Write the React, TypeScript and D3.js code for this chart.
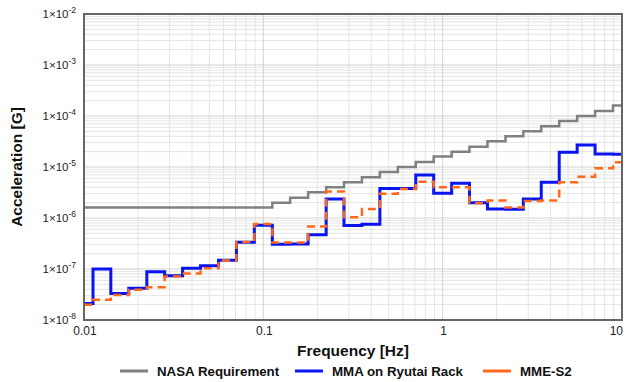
import React from "react";
import * as d3 from "d3";

// One-third-octave band centre frequencies [Hz]
const bandFreqs = [
  0.01, 0.0126, 0.0158, 0.02, 0.0251, 0.0316, 0.0398, 0.0501, 0.0631, 0.0794,
  0.1, 0.126, 0.158, 0.2, 0.251, 0.316, 0.398, 0.501, 0.631, 0.794,
  1, 1.26, 1.58, 2, 2.51, 3.16, 3.98, 5.01, 6.31, 7.94, 10,
];

// Acceleration limit / measured RMS acceleration per band [G]
const nasaRequirement = [
  1.6e-6, 1.6e-6, 1.6e-6, 1.6e-6, 1.6e-6, 1.6e-6, 1.6e-6, 1.6e-6, 1.6e-6, 1.6e-6,
  1.6e-6, 2.0e-6, 2.5e-6, 3.2e-6, 4.0e-6, 5.0e-6, 6.3e-6, 8.0e-6, 1.0e-5, 1.26e-5,
  1.6e-5, 2.0e-5, 2.5e-5, 3.2e-5, 4.0e-5, 5.0e-5, 6.3e-5, 8.0e-5, 1.0e-4, 1.26e-4, 1.6e-4,
];

const mmaRyutai = [
  2.1e-8, 1.0e-7, 3.3e-8, 4.2e-8, 8.8e-8, 7.4e-8, 1.03e-7, 1.16e-7, 1.48e-7, 3.35e-7,
  7.2e-7, 3.05e-7, 3.1e-7, 4.7e-7, 2.35e-6, 7.1e-7, 7.5e-7, 3.8e-6, 3.8e-6, 7.0e-6,
  3.05e-6, 4.8e-6, 2.0e-6, 1.5e-6, 1.48e-6, 2.36e-6, 5.0e-6, 1.94e-5, 2.7e-5, 1.8e-5, 1.77e-5,
];

const mmeS2 = [
  2.0e-8, 2.5e-8, 3.1e-8, 3.9e-8, 4.4e-8, 7.1e-8, 8.2e-8, 1.03e-7, 1.46e-7, 3.4e-7,
  7.6e-7, 3.3e-7, 3.3e-7, 6.8e-7, 3.3e-6, 1.03e-6, 1.5e-6, 3.0e-6, 3.7e-6, 5.15e-6,
  4.0e-6, 4.0e-6, 1.95e-6, 2.2e-6, 1.6e-6, 2.15e-6, 2.2e-6, 5.0e-6, 6.45e-6, 9.4e-6, 1.24e-5,
];

const xTicks = [0.01, 0.1, 1, 10];
const xTickLabels = ["0.01", "0.1", "1", "10"];
const yTicks = [1e-8, 1e-7, 1e-6, 1e-5, 1e-4, 1e-3, 1e-2];
const yTickExponents = ["-8", "-7", "-6", "-5", "-4", "-3", "-2"];

const seriesNames = ["NASA Requirement", "MMA on Ryutai Rack", "MME-S2"];

const W = 627;
const H = 382;
const M = { left: 84, right: 622, top: 14, bottom: 320 };
const FONT = "'Liberation Sans', Arial, sans-serif";

export default function App() {
  const x = d3.scaleLog().domain([0.01, 10]).range([M.left, M.right]);
  const y = d3.scaleLog().domain([1e-8, 1e-2]).range([M.bottom, M.top]);

  const minorX: number[] = [];
  for (let e = -2; e < 1; e++) for (let m = 2; m <= 9; m++) minorX.push(m * Math.pow(10, e));
  const minorY: number[] = [];
  for (let e = -8; e < -2; e++) for (let m = 2; m <= 9; m++) minorY.push(m * Math.pow(10, e));

  const line = d3
    .line<[number, number]>()
    .x((d) => x(d[0]))
    .y((d) => y(d[1]))
    .curve(d3.curveStep);

  const path = (vals: number[]) =>
    line(bandFreqs.map((f, i) => [f, vals[i]] as [number, number])) || "";

  const series = [
    { name: seriesNames[0], vals: nasaRequirement, color: "#808080", width: 2.5, dash: undefined },
    { name: seriesNames[1], vals: mmaRyutai, color: "#0a14f0", width: 3, dash: undefined },
    { name: seriesNames[2], vals: mmeS2, color: "#ff6a1a", width: 2.5, dash: "8,5" },
  ];

  const legendX = [120, 295, 483];

  return (
    <svg
      width={W}
      height={H}
      style={{ position: "fixed", left: 0, top: 0, background: "#fff" }}
      fontFamily={FONT}
    >
      <rect x={0} y={0} width={W} height={H} fill="#fff" />
      <defs>
        <clipPath id="plot-clip">
          <rect x={M.left} y={M.top} width={M.right - M.left} height={M.bottom - M.top} />
        </clipPath>
      </defs>

      {/* grid */}
      <g>
        {minorX.map((v) => (
          <line key={"mx" + v} x1={x(v)} x2={x(v)} y1={M.top} y2={M.bottom} stroke="#e4e4e4" strokeWidth={1} />
        ))}
        {minorY.map((v) => (
          <line key={"my" + v} x1={M.left} x2={M.right} y1={y(v)} y2={y(v)} stroke="#e4e4e4" strokeWidth={1} />
        ))}
        {xTicks.map((v) => (
          <line key={"gx" + v} x1={x(v)} x2={x(v)} y1={M.top} y2={M.bottom} stroke="#d2d2d2" strokeWidth={1} />
        ))}
        {yTicks.map((v) => (
          <line key={"gy" + v} x1={M.left} x2={M.right} y1={y(v)} y2={y(v)} stroke="#d2d2d2" strokeWidth={1} />
        ))}
      </g>

      {/* series */}
      <g clipPath="url(#plot-clip)">
        {series.map((s) => (
          <path
            key={s.name}
            d={path(s.vals)}
            fill="none"
            stroke={s.color}
            strokeWidth={s.width}
            strokeDasharray={s.dash}
          />
        ))}
      </g>

      {/* frame */}
      <rect
        x={M.left}
        y={M.top}
        width={M.right - M.left}
        height={M.bottom - M.top}
        fill="none"
        stroke="#666"
        strokeWidth={2}
      />

      {/* y tick labels */}
      {yTicks.map((v, i) => (
        <text key={"yl" + v} x={76} y={y(v) + 4} textAnchor="end" fontSize={11.5} fill="#222">
          1×10
          <tspan dy={-5} fontSize={8.5}>
            {yTickExponents[i]}
          </tspan>
        </text>
      ))}

      {/* x tick labels */}
      {xTicks.map((v, i) => (
        <text
          key={"xl" + v}
          x={i === xTicks.length - 1 ? M.right + 1 : x(v) + 1}
          y={335}
          textAnchor={i === xTicks.length - 1 ? "end" : "middle"}
          fontSize={12}
          fill="#222"
        >
          {xTickLabels[i]}
        </text>
      ))}

      {/* axis titles */}
      <text
        transform={`translate(22,${(M.top + M.bottom) / 2}) rotate(-90)`}
        textAnchor="middle"
        fontSize={15.5}
        fontWeight="bold"
        fill="#111"
      >
        Acceleration [G]
      </text>
      <text x={(M.left + M.right) / 2} y={356} textAnchor="middle" fontSize={15.5} fontWeight="bold" fill="#111">
        Frequency [Hz]
      </text>

      {/* legend */}
      {series.map((s, i) => (
        <g key={"lg" + s.name}>
          <line
            x1={legendX[i]}
            x2={legendX[i] + 28}
            y1={371}
            y2={371}
            stroke={s.color}
            strokeWidth={3}
          />
          <text x={legendX[i] + 37} y={375.5} fontSize={13.3} fontWeight="bold" fill="#111">
            {s.name}
          </text>
        </g>
      ))}
    </svg>
  );
}
